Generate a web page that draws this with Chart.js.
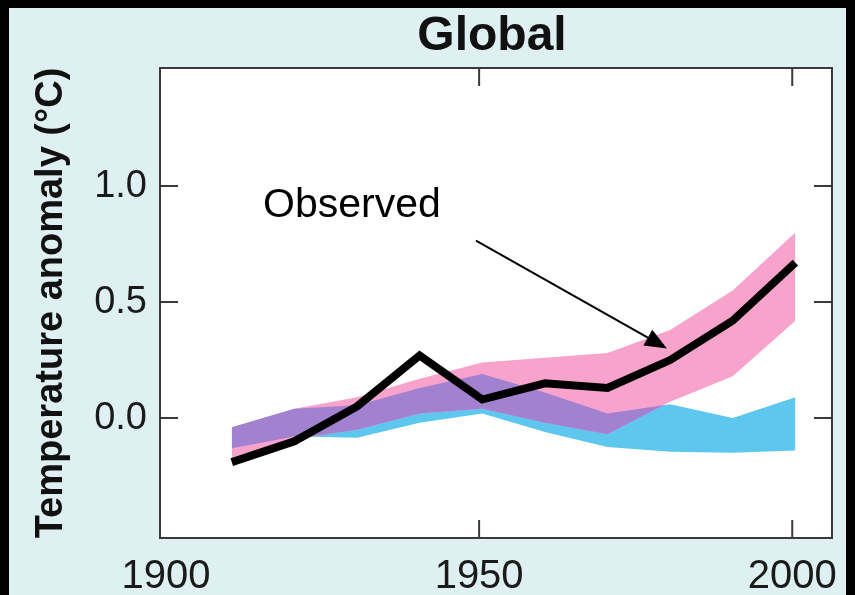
<!DOCTYPE html>
<html><head><meta charset="utf-8">
<script src="https://cdn.jsdelivr.net/npm/chart.js@4"></script>
<style>
html,body{margin:0;padding:0;background:#000;width:855px;height:595px;overflow:hidden}
#panel{position:absolute;left:9px;top:8px;width:837px;height:587px;background:#dff0f3}
#wrap{position:absolute;left:0;top:0;width:855px;height:595px}
</style></head><body>
<div id="panel"></div>
<div id="wrap"><canvas id="c" width="855" height="595"></canvas></div>
<script>
// ---- data ----
const chartTitle = "Global";
const yAxisTitle = "Temperature anomaly (°C)";
const decades = [1910.5, 1920.5, 1930.5, 1940.5, 1950.5, 1960.5, 1970.5, 1980.5, 1990.5, 2000.5];
const observed = [-0.19, -0.10, 0.05, 0.27, 0.08, 0.15, 0.13, 0.25, 0.42, 0.67];
const allForcingLow  = [-0.17, -0.09, -0.05, 0.02, 0.04, -0.02, -0.07, 0.07, 0.18, 0.42];
const allForcingHigh = [-0.04, 0.04, 0.09, 0.17, 0.24, 0.26, 0.28, 0.38, 0.55, 0.80];
const naturalLow     = [-0.13, -0.08, -0.085, -0.02, 0.02, -0.06, -0.125, -0.145, -0.15, -0.14];
const naturalHigh    = [-0.04, 0.04, 0.055, 0.13, 0.19, 0.11, 0.02, 0.06, 0.0, 0.09];
const xTickValues = [1900, 1950, 2000];
const yTickValues = [0.0, 0.5, 1.0];
const calloutText = "Observed";
const calloutAt = [1915.5, 0.866];
const arrowFrom = [1949.5, 0.765];
const arrowTo = [1980.0, 0.30];

// ---- styles ----
const PINK = '#f7a3cc', BLUE = '#5ec7ee', PURPLE = '#a381d1';
const FONT = '"Liberation Sans", Arial, sans-serif';
const pts = arr => decades.map((x, i) => ({x, y: arr[i]}));

const decor = {
  id: 'decor',
  beforeDraw(chart) {
    const {ctx, chartArea: a} = chart;
    ctx.save(); ctx.fillStyle = '#fff';
    ctx.fillRect(a.left, a.top, a.right - a.left, a.bottom - a.top);
    ctx.restore();
  },
  afterDatasetDraw(chart, args) {
    if (args.index !== 1) return;
    const ctx = chart.ctx;
    const pH = chart.getDatasetMeta(1).data, pL = chart.getDatasetMeta(2).data;
    const bH = chart.getDatasetMeta(3).data, bL = chart.getDatasetMeta(4).data;
    const poly = (hi, lo) => {
      ctx.beginPath();
      hi.forEach((p, i) => i ? ctx.lineTo(p.x, p.y) : ctx.moveTo(p.x, p.y));
      for (let i = lo.length - 1; i >= 0; i--) ctx.lineTo(lo[i].x, lo[i].y);
      ctx.closePath();
    };
    ctx.save();
    poly(pH, pL); ctx.clip();
    poly(bH, bL); ctx.fillStyle = PURPLE; ctx.fill();
    ctx.restore();
  },
  afterDraw(chart) {
    const {ctx, chartArea: a, scales: {x, y}} = chart;
    ctx.save();
    // title centred over the plot box
    ctx.fillStyle = '#111';
    ctx.font = 'bold 48px ' + FONT;
    ctx.textAlign = 'center'; ctx.textBaseline = 'alphabetic';
    ctx.fillText(chartTitle, (a.left + a.right) / 2 - 4, 50);
    // frame and inward ticks
    ctx.strokeStyle = '#3a3a3a'; ctx.lineWidth = 2;
    ctx.strokeRect(a.left, a.top, a.right - a.left, a.bottom - a.top);
    const TL = 18;
    ctx.beginPath();
    x.ticks.forEach(t => {
      const px = x.getPixelForValue(t.value);
      if (px - a.left < 8 || a.right - px < 8) return;
      ctx.moveTo(px, a.bottom); ctx.lineTo(px, a.bottom - TL);
      ctx.moveTo(px, a.top); ctx.lineTo(px, a.top + TL);
    });
    y.ticks.forEach(t => {
      const py = y.getPixelForValue(t.value);
      if (py - a.top < 8 || a.bottom - py < 8) return;
      ctx.moveTo(a.left, py); ctx.lineTo(a.left + TL, py);
      ctx.moveTo(a.right, py); ctx.lineTo(a.right - TL, py);
    });
    ctx.stroke();
    // callout
    ctx.fillStyle = '#000';
    ctx.font = '41px ' + FONT;
    ctx.textAlign = 'left'; ctx.textBaseline = 'alphabetic';
    ctx.fillText(calloutText, x.getPixelForValue(calloutAt[0]), y.getPixelForValue(calloutAt[1]));
    // arrow
    const x0 = x.getPixelForValue(arrowFrom[0]), y0 = y.getPixelForValue(arrowFrom[1]);
    const x1 = x.getPixelForValue(arrowTo[0]), y1 = y.getPixelForValue(arrowTo[1]);
    const ang = Math.atan2(y1 - y0, x1 - x0), HL = 22, HW = 9;
    const bx = x1 - HL * Math.cos(ang), by = y1 - HL * Math.sin(ang);
    ctx.strokeStyle = '#000'; ctx.lineWidth = 2;
    ctx.beginPath(); ctx.moveTo(x0, y0); ctx.lineTo(bx, by); ctx.stroke();
    ctx.beginPath();
    ctx.moveTo(x1, y1);
    ctx.lineTo(bx + HW * Math.sin(ang), by - HW * Math.cos(ang));
    ctx.lineTo(bx - HW * Math.sin(ang), by + HW * Math.cos(ang));
    ctx.closePath(); ctx.fill();
    ctx.restore();
  }
};

const band = (data, color, fill) => ({
  data, borderWidth: 0, pointRadius: 0, tension: 0,
  backgroundColor: color, borderColor: 'rgba(0,0,0,0)', fill
});

new Chart(document.getElementById('c'), {
  type: 'line',
  data: {
    datasets: [
      {label: 'Observed', data: pts(observed), borderColor: '#000', borderWidth: 8,
       pointRadius: 0, tension: 0, fill: false, borderJoinStyle: 'miter'},
      band(pts(allForcingHigh), PINK, '+1'),
      band(pts(allForcingLow), PINK, false),
      band(pts(naturalHigh), BLUE, '+1'),
      band(pts(naturalLow), BLUE, false)
    ]
  },
  options: {
    responsive: false, animation: false, devicePixelRatio: 1,
    layout: {padding: {left: 0, right: 23, top: 68, bottom: 0}},
    plugins: {
      legend: {display: false}, tooltip: {enabled: false}, title: {display: false}
    },
    scales: {
      x: {type: 'linear', min: 1899.04, max: 2006.35,
        afterBuildTicks: s => { s.ticks = xTickValues.map(v => ({value: v})); },
        afterFit: s => { s.height = 57; },
        grid: {display: false, drawTicks: false}, border: {display: false},
        ticks: {color: '#1a1a1a', padding: 15, maxRotation: 0, autoSkip: false,
          font: {family: FONT, size: 40},
          callback: v => String(v)}},
      y: {type: 'linear', min: -0.517, max: 1.509,
        afterBuildTicks: s => { s.ticks = yTickValues.map(v => ({value: v})); },
        afterFit: s => { s.width = 160; },
        grid: {display: false, drawTicks: false}, border: {display: false},
        title: {display: true, text: yAxisTitle, color: '#111', padding: {top: 29, bottom: 0},
          font: {family: FONT, size: 38, weight: 'bold', lineHeight: 1.2}},
        ticks: {color: '#1a1a1a', padding: 13, autoSkip: false,
          font: {family: FONT, size: 38},
          callback: v => Number(v).toFixed(1)}}
    }
  },
  plugins: [decor]
});
</script>
</body></html>
